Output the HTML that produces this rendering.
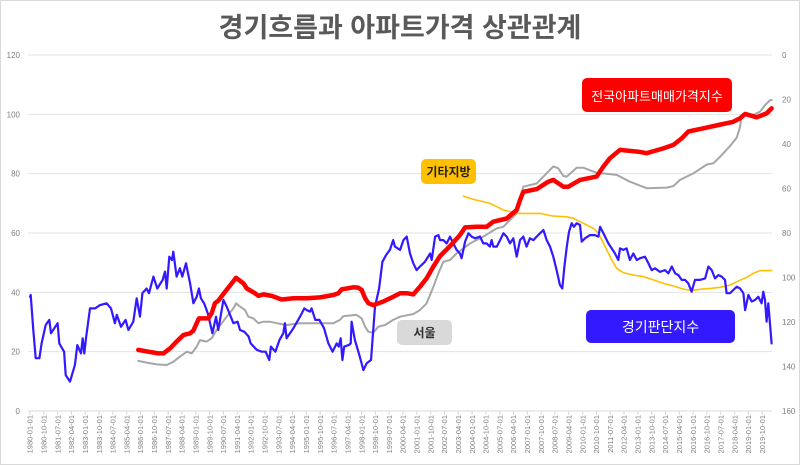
<!DOCTYPE html>
<html><head><meta charset="utf-8">
<style>
html,body{margin:0;padding:0;background:#fff;}
#wrap{position:relative;width:800px;height:465px;overflow:hidden;background:#fff;font-family:"Liberation Sans","Noto Sans CJK KR",sans-serif;}
#frame{position:absolute;left:0;top:0;width:798px;height:463px;border:1px solid #d9d9d9;}
#title{position:absolute;left:0;width:800px;top:6px;text-align:center;font-size:27px;font-weight:bold;color:#595959;font-family:"Liberation Sans","Noto Sans CJK KR",sans-serif;}
.tag{position:absolute;border-radius:5px;display:flex;align-items:center;justify-content:center;white-space:nowrap;font-family:"Liberation Sans","Noto Sans CJK KR",sans-serif;}
</style></head><body>
<div id="wrap">
<div id="frame"></div>
<div id="title">경기흐름과 아파트가격 상관관계</div>
<svg id="svg" width="800" height="465" style="position:absolute;left:0;top:0"></svg>
<div class="tag" style="left:582px;top:78px;width:150px;height:34px;background:#ff0000;color:#fff;font-size:13px;">전국아파트매매가격지수</div>
<div class="tag" style="left:421px;top:159px;width:55px;height:25px;background:#ffc000;color:#222;font-size:12px;font-weight:bold;">기타지방</div>
<div class="tag" style="left:397px;top:320px;width:55px;height:25px;background:#d9d9d9;color:#333;font-size:12px;font-weight:bold;">서울</div>
<div class="tag" style="left:586px;top:310px;width:149px;height:33px;background:#3219ff;color:#fff;font-size:14px;">경기판단지수</div>
</div>
<script>
const leftTicks=[0,20,40,60,80,100,120];
const rightTicks=[0,20,40,60,80,100,120,140,160];
const blueYears=[1980.0,1980.04,1980.18,1980.31,1980.51,1980.63,1980.85,1981.05,1981.14,1981.5,1981.59,1981.85,1981.94,1982.17,1982.44,1982.57,1982.77,1982.86,1982.95,1983.04,1983.26,1983.53,1983.8,1984.16,1984.4,1984.61,1984.71,1984.94,1985.19,1985.34,1985.61,1985.79,1985.97,1986.1,1986.33,1986.46,1986.7,1986.91,1987.2,1987.33,1987.42,1987.56,1987.71,1987.78,1987.96,1988.14,1988.27,1988.47,1988.69,1988.87,1989.05,1989.17,1989.28,1989.45,1989.65,1989.9,1990.1,1990.22,1990.5,1990.68,1991.04,1991.27,1991.4,1991.64,1991.87,1991.98,1992.31,1992.58,1992.79,1992.99,1993.08,1993.32,1993.54,1993.75,1993.84,1993.93,1994.3,1994.66,1994.89,1995.02,1995.2,1995.29,1995.49,1995.71,1995.96,1996.2,1996.43,1996.65,1996.76,1996.87,1996.96,1997.06,1997.3,1997.41,1997.46,1997.64,1997.88,1998.1,1998.28,1998.51,1998.73,1998.95,1999.13,1999.33,1999.54,1999.72,1999.81,2000.09,
2000.27,2000.45,2000.63,2000.81,2000.99,2001.17,2001.44,2001.72,2001.81,2001.99,2002.17,2002.26,2002.44,2002.62,2002.8,2002.98,2003.16,2003.34,2003.43,2003.62,2003.8,2003.98,2004.16,2004.43,2004.61,2004.79,2004.97,2005.06,2005.15,2005.34,2005.52,2005.7,2005.88,2006.06,2006.24,2006.42,2006.6,2006.78,2006.96,2007.14,2007.33,2007.51,2007.69,2007.87,2008.05,2008.23,2008.41,2008.59,2008.77,2008.9,2009.01,2009.14,2009.26,2009.41,2009.53,2009.68,2009.86,2009.95,2010.13,2010.4,2010.67,2010.86,2010.95,2011.13,2011.4,2011.58,2011.76,2011.94,2012.03,2012.21,2012.39,2012.57,2012.75,2012.94,2013.12,2013.39,2013.57,2013.75,2013.93,2014.2,2014.47,2014.66,2014.84,2015.02,2015.2,2015.38,2015.56,2015.74,2015.92,2016.1,2016.37,2016.65,2016.83,2017.01,2017.19,2017.37,2017.55,2017.73,2017.82,2018.0,2018.18,2018.37,2018.55,2018.73,2018.82,2019.0,2019.18,2019.36,2019.54,2019.72,2019.81,2019.9,2019.99,2020.08,2020.26];
const blueValues=[38.5,39.1,27.3,17.8,17.8,22.8,29.0,30.7,26.2,29.6,22.8,20.0,12.1,9.9,15.5,22.2,19.4,24.5,19.4,24.5,34.6,34.6,35.7,36.3,34.6,29.6,32.4,28.4,30.7,27.3,30.1,38.0,31.8,39.7,41.3,39.7,45.3,41.3,44.2,47.0,41.3,52.0,50.9,53.7,45.3,48.1,45.3,49.8,43.0,36.3,38.5,41.3,38.0,36.3,32.9,26.2,31.8,27.3,37.4,35.2,29.6,30.1,27.3,26.7,25.1,22.8,20.6,20.0,20.0,17.2,21.7,20.0,23.9,26.2,29.6,24.5,27.9,31.8,34.6,34.0,33.5,34.6,30.7,30.7,27.9,22.8,20.0,22.8,21.7,24.5,17.2,21.7,22.2,22.8,30.1,23.9,18.9,13.8,16.1,17.2,35.2,41.3,50.3,52.6,54.3,57.6,55.4,54.3,
57.6,58.8,53.1,49.8,47.5,48.7,50.3,53.1,50.9,58.8,59.3,57.6,57.6,56.5,58.8,56.5,54.3,53.1,51.5,57.1,59.9,58.8,58.2,58.8,56.5,56.5,55.4,57.6,55.4,55.4,57.6,59.9,58.8,56.5,58.2,52.0,57.6,58.8,55.4,58.2,57.6,58.8,59.9,61.0,57.6,55.4,52.0,47.5,42.5,41.3,48.7,55.4,60.4,63.3,62.1,63.3,62.7,57.1,58.2,59.3,59.3,58.8,62.1,59.9,56.5,54.8,53.1,50.9,54.8,54.3,54.8,50.9,53.1,50.9,51.5,52.0,49.8,47.5,48.1,46.9,47.5,46.4,48.7,46.4,45.8,44.2,44.2,43.0,40.2,44.2,44.2,44.7,48.7,47.5,44.7,45.8,45.3,44.2,39.7,39.7,40.8,41.9,41.3,39.7,34.0,39.1,36.9,37.4,38.5,36.3,40.2,37.4,30.1,36.3,22.8];
const redYears=[1985.88,1986.42,1986.97,1987.24,1987.6,1987.96,1988.32,1988.69,1988.87,1989.05,1989.17,1989.68,1989.86,1990.04,1990.22,1990.59,1990.95,1991.19,1991.59,1991.77,1992.21,1992.4,1992.67,1993.12,1993.66,1994.3,1995.02,1995.74,1996.47,1996.74,1996.92,1997.55,1997.82,1998.01,1998.19,1998.37,1998.64,1999.18,1999.72,2000.09,2000.45,2000.81,2001.17,2001.53,2001.9,2002.26,2002.8,2003.34,2003.62,2004.25,2004.79,2005.15,2005.88,2006.42,2006.6,2006.78,2007.51,2008.14,2008.41,2008.95,2009.23,2009.86,2010.76,2011.13,2011.49,2012.03,2013.03,2013.48,2014.38,2014.93,2015.38,2015.74,2016.56,2017.37,2018.18,2018.55,2018.82,2019.45,2019.99,2020.26];
const redValues=[20.6,20.0,19.4,19.4,21.1,23.4,25.6,26.2,27.1,29.6,31.2,31.2,32.9,36.3,37.2,40.2,43.0,44.9,43.0,41.3,39.7,38.8,39.3,38.8,37.6,38.0,38.0,38.3,39.1,39.7,41.0,41.7,41.6,40.8,38.0,36.3,35.7,36.9,38.5,39.7,39.7,39.3,41.9,44.7,48.7,52.2,55.6,59.3,61.9,62.1,62.1,63.8,64.9,67.8,71.1,73.9,74.8,77.3,77.9,75.6,75.6,77.9,79.0,82.4,85.2,88.0,87.4,86.9,88.5,89.7,91.9,94.2,95.3,96.4,97.5,98.7,100.1,99.0,100.3,102.0];
const grayYears=[1985.88,1986.33,1986.88,1987.42,1987.78,1988.14,1988.51,1988.78,1989.05,1989.23,1989.59,1989.86,1990.13,1990.41,1990.68,1991.04,1991.19,1991.4,1991.67,1991.85,1992.12,1992.4,1992.67,1993.03,1993.39,1993.93,1994.66,1996.47,1996.83,1997.01,1997.73,1998.01,1998.19,1998.37,1998.64,1998.91,1999.27,1999.72,2000.09,2000.81,2001.17,2001.53,2001.9,2002.17,2002.44,2002.8,2003.16,2003.89,2004.61,2005.34,2005.7,2006.06,2006.42,2006.6,2006.78,2007.51,2008.14,2008.41,2008.68,2008.95,2009.14,2009.68,2010.04,2010.76,2011.85,2012.57,2013.48,2014.56,2014.93,2015.29,2016.01,2016.74,2017.1,2017.46,2018.0,2018.37,2018.55,2018.64,2018.82,2019.27,2019.63,2019.9,2020.18,2020.26];
const grayValues=[16.9,16.3,15.7,15.5,16.6,18.3,20.0,19.4,21.7,23.9,23.4,24.5,27.3,29.6,31.8,34.6,36.3,35.2,34.0,31.8,31.2,29.6,30.1,30.1,29.6,29.0,29.6,29.6,30.7,32.0,32.4,31.2,28.4,26.7,26.4,28.4,29.0,30.7,31.8,32.7,34.0,36.3,41.9,46.4,50.3,50.9,53.1,56.5,58.8,61.6,62.1,64.4,66.6,71.1,75.6,76.7,80.7,82.4,81.8,79.2,79.0,82.0,82.0,80.3,79.6,77.3,75.1,75.3,75.8,77.9,80.1,83.1,83.5,85.7,89.3,92.2,95.8,99.8,100.6,99.8,100.9,103.1,104.8,104.8];
const yellowYears=[2003.53,2003.71,2004.07,2004.61,2004.97,2005.34,2005.7,2006.06,2006.42,2007.69,2008.41,2009.14,2009.5,2009.86,2010.22,2010.58,2010.86,2011.04,2011.31,2011.58,2011.85,2012.21,2012.75,2013.3,2013.84,2014.38,2014.93,2015.47,2015.92,2016.37,2016.92,2017.46,2018.0,2018.37,2018.91,2019.27,2019.63,2020.26];
const yellowValuesRight=[63.4,64.0,64.9,65.9,66.7,68.2,69.7,70.4,71.2,71.2,72.4,72.7,73.4,74.9,76.4,77.9,80.1,83.1,87.6,92.1,95.9,97.8,98.9,99.6,101.1,102.6,103.8,105.2,105.9,105.3,104.9,104.4,103.4,101.9,99.9,98.1,96.9,96.9];

const NS='http://www.w3.org/2000/svg';
const svg=document.getElementById('svg');
const X0=30, PXY=18.42, PL=28, PR=772, YB=411, YT=55;
function xs(yr){return X0+(yr-1980)*PXY;}
function yl(v){return YB-(v/120)*(YB-YT);}
function yr(v){return YT+(v/160)*(YB-YT);}
function mk(tag,attrs){const e=document.createElementNS(NS,tag);for(const k in attrs)e.setAttribute(k,attrs[k]);svg.appendChild(e);return e;}

leftTicks.forEach(t=>{
  const y=yl(t);
  if(t>0){const g=mk('line',{x1:PL,x2:PR,y1:y,y2:y,stroke:'#e3e3e3','stroke-width':1});
  
  }
  const tx=mk('text',{x:20,y:y+3,'text-anchor':'end','font-size':8,fill:'#7f7f7f','font-family':'Liberation Sans, sans-serif'});
  tx.textContent=t;
  
  
});
rightTicks.forEach(t=>{
  const tx=mk('text',{x:782,y:yr(t)+3,'text-anchor':'start','font-size':8,fill:'#7f7f7f','font-family':'Liberation Sans, sans-serif'});
  tx.textContent=t;
  
  
});
const ax=mk('line',{x1:PL,x2:PR,y1:YB,y2:YB,stroke:'#d9d9d9','stroke-width':1});


for(let m=0;m<=477;m+=9){
  const y=1980+Math.floor(m/12), mo=m%12+1;
  const label=y+'-'+(mo<10?'0':'')+mo+'-01';
  const x=xs(1980+m/12);
  const tk=mk('line',{x1:x,x2:x,y1:YB,y2:YB+4,stroke:'#d9d9d9'});
  
  
  const tx=mk('text',{x:0,y:0,'text-anchor':'end','font-size':7.5,fill:'#7f7f7f','font-family':'Liberation Sans, sans-serif',transform:`translate(${x+2.7},${YB+4}) rotate(-90)`});
  tx.textContent=label;
  
  
}
function series(years,vals,fy,color,w,name){
  const d=years.map((t,i)=>(i?'L':'M')+xs(t).toFixed(1)+' '+fy(vals[i]).toFixed(1)).join(' ');
  const p=mk('path',{d:d,fill:'none',stroke:color,'stroke-width':w,'stroke-linejoin':'round','stroke-linecap':'round'});
  
  
}
series(grayYears,grayValues,yl,'#a6a6a6',2,'seoul-line');
series(yellowYears,yellowValuesRight,yr,'#ffc000',1.6,'other-regions-line');
series(blueYears,blueValues,yl,'#3219ff',2.2,'business-index-line');
series(redYears,redValues,yl,'#ff0000',4.5,'national-apartment-line');
</script>
</body></html>
